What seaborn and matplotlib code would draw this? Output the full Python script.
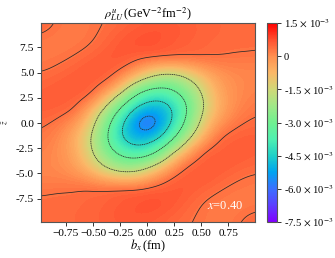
import numpy as np
import matplotlib
matplotlib.use('Agg')
import matplotlib.pyplot as plt
import matplotlib.tri as mtri
import seaborn as sns

# values in units of 1e-3
bx = [-1, -.875, -.75, -.625, -.5, -.375, -.25, -.125, 0, .125, .25, .375, .5, .625, .75, .875, 1]
z = [10, 8.75, 7.5, 6.25, 5, 3.75, 2.5, 1.25, 0, -1.25, -2.5, -3.75, -5, -6.25, -7.5, -8.75, -10]
rho = [
    [.58, .37, .28, .27, .30, .35, .42, .50, .56, .58, .56, .52, .48, .45, .43, .42, .41],
    [.32, .28, .27, .27, .31, .42, .55, .66, .72, .72, .66, .58, .50, .46, .43, .42, .41],
    [.28, .27, .27, .30, .37, .52, .66, .72, .72, .66, .58, .52, .47, .43, .40, .39, .38],
    [.28, .29, .33, .42, .55, .65, .62, .48, .38, .31, .29, .30, .31, .31, .30, .28, .25],
    [.33, .38, .48, .60, .66, .55, .38, -.20, -1.05, -1.63, -1.67, -1.24, -.65, -.20, .02, .08, .10],
    [.48, .55, .62, .62, .52, .34, -.59, -2.05, -2.74, -3.03, -2.85, -2.28, -1.44, -.59, -.10, .08, .12],
    [.55, .60, .58, .48, .33, -.98, -2.28, -3.38, -4.12, -4.31, -3.80, -2.97, -1.87, -.78, -.20, .08, .20],
    [.55, .55, .45, .25, -.98, -2.17, -3.43, -4.57, -5.25, -5.16, -4.40, -3.20, -1.87, -.85, -.13, .20, .32],
    [.42, .33, .15, -.39, -1.50, -2.85, -4.22, -5.38, -6.40, -5.38, -4.22, -2.85, -1.50, -.39, .15, .33, .42],
    [.32, .20, -.13, -.85, -1.87, -3.20, -4.40, -5.16, -5.25, -4.57, -3.43, -2.17, -.98, .25, .45, .55, .55],
    [.20, .08, -.20, -.78, -1.87, -2.97, -3.80, -4.31, -4.12, -3.38, -2.28, -.98, .33, .48, .58, .60, .55],
    [.12, .08, -.10, -.59, -1.44, -2.28, -2.85, -3.03, -2.74, -2.05, -.59, .34, .52, .62, .62, .55, .48],
    [.10, .08, .02, -.20, -.65, -1.24, -1.67, -1.63, -1.05, -.20, .38, .55, .66, .60, .48, .38, .33],
    [.25, .28, .30, .31, .31, .30, .29, .31, .38, .48, .62, .65, .55, .42, .33, .29, .28],
    [.38, .39, .40, .43, .47, .52, .58, .66, .72, .72, .66, .52, .37, .30, .27, .27, .28],
    [.41, .42, .43, .46, .50, .58, .66, .72, .72, .66, .55, .42, .31, .27, .27, .28, .32],
    [.41, .42, .43, .45, .48, .52, .56, .58, .56, .50, .42, .35, .30, .27, .28, .37, .58],
]
line_levels = [-5.5, -4.4, -3.2, -1.7, .35]
x_ticks = [-.75, -.5, -.25, 0, .25, .5, .75]
y_ticks = [-7.5, -5, -2.5, 0, 2.5, 5, 7.5]
y_labels = ['-7.5', '-5.0', '-2.5', '0.0', '2.5', '5.0', '7.5']
cbar_ticks = [1.5, 0, -1.5, -3, -4.5, -6, -7.5]
cbar_labels = [r'1.5 $\times$ 10$^{-3}$', '0', r'-1.5 $\times$ 10$^{-3}$', r'-3.0 $\times$ 10$^{-3}$',
               r'-4.5 $\times$ 10$^{-3}$', r'-6.0 $\times$ 10$^{-3}$', r'-7.5 $\times$ 10$^{-3}$']
cmap_colors = ['#8000ff', '#5c40ff', '#3a70ff', '#00a4f0', '#20d0c8', '#50f0b0', '#70f090',
               '#a0e888', '#d0d878', '#fbb868', '#ff9050', '#ff5030', '#ff0000']

sns.set_style('ticks')
plt.rcParams['font.family'] = ['Liberation Serif', 'DejaVu Serif']
plt.rcParams['mathtext.fontset'] = 'stix'
plt.rcParams['axes.edgecolor'] = '#555555'
plt.rcParams['text.color'] = 'black'
plt.rcParams['axes.labelcolor'] = 'black'
plt.rcParams['xtick.labelcolor'] = 'black'
plt.rcParams['ytick.labelcolor'] = 'black'
plt.rcParams['contour.negative_linestyle'] = (0, (1.6, 0.8))
cmap = sns.blend_palette(cmap_colors, as_cmap=True)

xx, zz = np.meshgrid(bx, z)
tri = mtri.Triangulation(xx.ravel(), zz.ravel())
interp = mtri.CubicTriInterpolator(tri, np.array(rho).ravel(), kind='min_E')
fine_x = np.linspace(-1, 1, 401)
fine_z = np.linspace(-10, 10, 401)
fx, fz = np.meshgrid(fine_x, fine_z)
field = np.asarray(interp(fx, fz))

# soften the reading errors of the coarse grid
kern = np.exp(-0.5 * (np.arange(-45, 46) / 15) ** 2)
kern = kern / kern.sum()
field = np.pad(field, 45, mode='edge')
field = np.apply_along_axis(lambda r: np.convolve(r, kern, mode='same'), 0, field)
field = np.apply_along_axis(lambda r: np.convolve(r, kern, mode='same'), 1, field)
field = field[45:-45, 45:-45]

fig = plt.figure(figsize=(3.35, 2.58), dpi=100)
ax = fig.add_axes([41/335, 1 - 222/258, 213.5/335, 199/258])
ax.contourf(fx, fz, field, levels=np.linspace(-7.5, 1.5, 121), cmap=cmap, vmin=-7.5, vmax=1.5)
ax.contour(fx, fz, field, levels=line_levels, colors='#2a2a2a', linewidths=0.55)
ax.set_xlim(-0.98, 0.99)
ax.set_ylim(-9.83, 9.93)
ax.set_xticks(x_ticks)
ax.set_yticks(y_ticks)
ax.set_yticklabels(y_labels)
ax.tick_params(labelsize=8.2, length=3, width=0.7, pad=2, color='#333333')
ax.set_xlabel(r'$b_x\,$(fm)', fontsize=9, labelpad=0)
ax.set_ylabel(r'$\tilde{z}$', fontsize=6.5, rotation=90, labelpad=4)
ax.set_title(r'$\rho^{u}_{LU}\,$(GeV$^{-2}$fm$^{-2}$)', fontsize=8.8, pad=3)
ax.text(0.72, -8.2, r'$x$=0.40', color='white', fontsize=9, ha='center', va='center')

cax = fig.add_axes([267/335, 1 - 222/258, 10/335, 199/258])
sm = plt.cm.ScalarMappable(norm=plt.Normalize(-7.5, 1.5), cmap=cmap)
cbar = fig.colorbar(sm, cax=cax)
cbar.set_ticks(cbar_ticks)
cbar.set_ticklabels(cbar_labels)
cbar.ax.tick_params(labelsize=7.6, length=3, width=0.7, pad=2, color='#333333')

fig.savefig('out.png', dpi=100)
